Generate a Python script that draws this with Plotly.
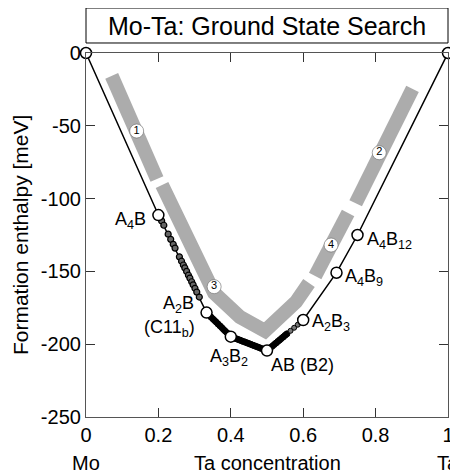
import plotly.graph_objects as go

# ---- data ----
hull_x = [0.0, 0.2, 0.333, 0.4, 0.5, 0.6, 0.692, 0.75, 1.0]
hull_y = [0.0, -111.3, -178.3, -194.8, -204.4, -183.4, -150.9, -125.0, 0.0]

# structures close to the hull (small circles)
near_x = [0.209, 0.215, 0.227, 0.234, 0.241, 0.246, 0.258, 0.264, 0.269, 0.273,
          0.278, 0.283, 0.287, 0.292, 0.296, 0.301, 0.306, 0.313]
near_y = [-115.3, -118.3, -124.4, -128.0, -131.4, -134.0, -140.0, -143.0, -145.6, -147.6,
          -150.0, -152.6, -154.6, -157.1, -159.2, -161.6, -164.2, -167.6]

dense_x = [0.34, 0.345, 0.35, 0.355, 0.36, 0.365, 0.37, 0.375, 0.38, 0.385, 0.39, 0.395,
           0.405, 0.41, 0.415, 0.42, 0.425, 0.43, 0.435, 0.44, 0.445, 0.45, 0.455, 0.46,
           0.465, 0.47, 0.475, 0.48, 0.485, 0.49, 0.495,
           0.505, 0.51, 0.515, 0.52, 0.525, 0.53, 0.535, 0.54, 0.545, 0.55, 0.555]
dense_y = [-180.0, -181.3, -182.5, -183.7, -184.9, -186.2, -187.4, -188.6, -189.9, -191.1, -192.3, -193.6,
           -195.3, -195.8, -196.2, -196.7, -197.2, -197.7, -198.2, -198.6, -199.1, -199.6, -200.1, -200.6,
           -201.0, -201.5, -202.0, -202.5, -203.0, -203.4, -203.9,
           -203.4, -202.3, -201.3, -200.2, -199.2, -198.1, -197.1, -196.0, -195.0, -193.9, -192.9]
sparse_x = [0.565, 0.575, 0.585]
sparse_y = [-190.8, -188.7, -186.6]

# gray guide bands
band1_x = [0.071, 0.196]
band1_y = [-15.7, -86.5]
band3_x = [0.210, 0.354, 0.425, 0.4945, 0.580, 0.616]
band3_y = [-90.7, -164.8, -181.3, -190.9, -171.0, -158.0]
band4_x = [0.633, 0.724]
band4_y = [-153.2, -109.9]
band2_x = [0.745, 0.902]
band2_y = [-103.2, -24.6]

band_lbl_x = [0.140, 0.810, 0.354, 0.677]
band_lbl_y = [-53.6, -68.5, -160.5, -131.9]
band_lbl = ["1", "2", "3", "4"]

x_ticks = [0, 0.2, 0.4, 0.6, 0.8, 1]
x_ticktext = ["0", "0.2", "0.4", "0.6", "0.8", "1"]
y_ticks = [0, -50, -100, -150, -200, -250]
y_ticktext = ["0", "-50", "-100", "-150", "-200", "-250"]

FONT = "Liberation Sans, Arial, Helvetica, sans-serif"
GRAY = "#acacac"

fig = go.Figure()
for bx, by in [(band1_x, band1_y), (band3_x, band3_y), (band4_x, band4_y), (band2_x, band2_y)]:
    fig.add_trace(go.Scatter(x=bx, y=by, mode="lines",
                             line=dict(color=GRAY, width=14), hoverinfo="skip",
                             showlegend=False))

fig.add_trace(go.Scatter(x=band_lbl_x, y=band_lbl_y, mode="markers+text", text=band_lbl,
                         textposition="middle center",
                         textfont=dict(family=FONT, size=11, color="black"),
                         marker=dict(size=14, color="white", line=dict(color="#666", width=0.6)),
                         showlegend=False))

fig.add_trace(go.Scatter(x=hull_x, y=hull_y, mode="lines",
                         line=dict(color="black", width=1.5), cliponaxis=False, showlegend=False))

fig.add_trace(go.Scatter(x=near_x, y=near_y, mode="markers",
                         marker=dict(size=6, color="#666", line=dict(color="black", width=1.2)),
                         showlegend=False))
fig.add_trace(go.Scatter(x=dense_x, y=dense_y, mode="markers",
                         marker=dict(size=6, color="black", line=dict(color="black", width=1)),
                         showlegend=False))
fig.add_trace(go.Scatter(x=sparse_x, y=sparse_y, mode="markers",
                         marker=dict(size=5, color="#777", line=dict(color="black", width=1)),
                         showlegend=False))

fig.add_trace(go.Scatter(x=hull_x, y=hull_y, mode="markers",
                         marker=dict(size=11, color="white", line=dict(color="black", width=1.5)),
                         cliponaxis=False, showlegend=False))

labels = [
    (0.172, -115, "A<sub>4</sub>B", "right"),
    (0.303, -172.5, "A<sub>2</sub>B", "right"),
    (0.307, -189, "(C11<sub>b</sub>)", "right"),
    (0.337, -209, "A<sub>3</sub>B<sub>2</sub>", "left"),
    (0.505, -214, "AB (B2)", "left"),
    (0.618, -185, "A<sub>2</sub>B<sub>3</sub>", "left"),
    (0.710, -154.5, "A<sub>4</sub>B<sub>9</sub>", "left"),
    (0.770, -128.5, "A<sub>4</sub>B<sub>12</sub>", "left"),
]
for x, y, t, anc in labels:
    fig.add_annotation(x=x, y=y, text=t, showarrow=False, xanchor=anc, yanchor="middle",
                       font=dict(family=FONT, size=18, color="black"))

# title box
fig.add_shape(type="rect", xref="paper", yref="paper", x0=0, x1=1, y0=1.0275, y1=1.1236,
              line=dict(color="black", width=1), fillcolor="white")
fig.add_annotation(xref="paper", yref="paper", x=0.5, y=1.0755, text="Mo-Ta: Ground State Search",
                   showarrow=False, xanchor="center", yanchor="middle",
                   font=dict(family=FONT, size=25, color="black"))

# bottom axis texts
for x, t in [(0.0, "Mo"), (0.5, "Ta concentration"), (1.0, "Ta")]:
    fig.add_annotation(xref="paper", yref="paper", x=x, y=-0.126, text=t, showarrow=False,
                       xanchor="center", yanchor="middle",
                       font=dict(family=FONT, size=20, color="black"))

fig.add_annotation(xref="paper", yref="paper", x=-0.182, y=0.5, text="Formation enthalpy [meV]",
                   textangle=-90, showarrow=False, xanchor="center", yanchor="middle",
                   font=dict(family=FONT, size=21, color="black"))

axis_common = dict(showline=True, linecolor="#555", linewidth=1.2, mirror="ticks",
                   ticks="inside", ticklen=9, tickcolor="#333", tickwidth=1.2,
                   showgrid=False, zeroline=False, automargin=False,
                   tickfont=dict(family=FONT, size=20, color="black"))
fig.update_xaxes(range=[0, 1], tickvals=x_ticks, ticktext=x_ticktext, **axis_common)
fig.update_yaxes(range=[-250, 0], tickvals=y_ticks, ticktext=y_ticktext, **axis_common)

# page body has an 8px margin, so the figure is 8px smaller and margins reduced accordingly
fig.update_layout(width=450, height=468, margin=dict(l=78, r=10, t=45, b=59),
                  plot_bgcolor="white", paper_bgcolor="white", showlegend=False)

fig.write_html("out.html")
